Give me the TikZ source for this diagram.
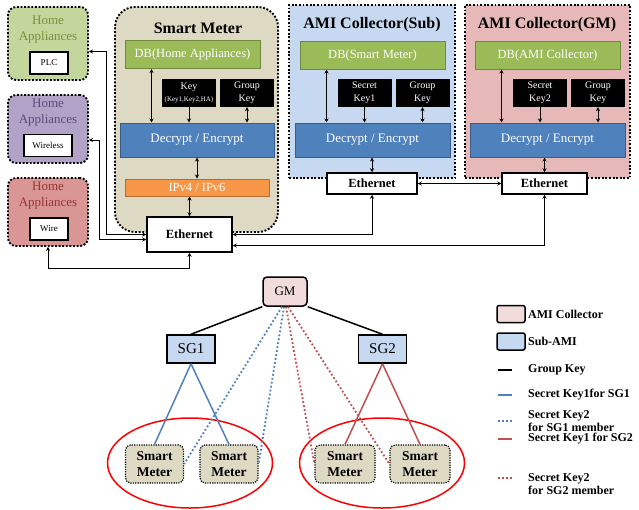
\documentclass[tikz,border=0pt]{standalone}
\usepackage{fontspec}
\setmainfont{Liberation Serif}
\usetikzlibrary{shapes.geometric, arrows.meta, positioning, calc}
\definecolor{hagreen}{RGB}{195,214,155}
\definecolor{hagreentext}{RGB}{119,147,60}
\definecolor{hapurple}{RGB}{179,162,199}
\definecolor{hapurpletext}{RGB}{96,74,123}
\definecolor{hared}{RGB}{217,150,148}
\definecolor{haredtext}{RGB}{149,55,53}
\definecolor{metercolor}{RGB}{221,217,195}
\definecolor{subcolor}{RGB}{198,217,241}
\definecolor{gmcolor}{RGB}{230,185,184}
\definecolor{gmlight}{RGB}{242,220,219}
\definecolor{dbcolor}{RGB}{155,187,89}
\definecolor{dbborder}{RGB}{113,137,63}
\definecolor{cryptcolor}{RGB}{79,129,189}
\definecolor{cryptborder}{RGB}{56,93,138}
\definecolor{ipcolor}{RGB}{247,150,70}
\definecolor{ipborder}{RGB}{182,109,49}
\definecolor{sgonecolor}{RGB}{79,129,189}
\definecolor{sgtwocolor}{RGB}{192,80,77}

\begin{document}
\begin{tikzpicture}[
    x=1pt, y=-1pt,
    dotborder/.style={draw, line width=1.9pt, dash pattern=on 1.9pt off 1.7pt},
    appliance/.style={dotborder, fill=#1, rounded corners=8pt, minimum width=80pt},
    hatitle/.style={text=#1, font=\fontsize{13}{16}\selectfont, align=center, inner sep=0pt},
    linkbox/.style={draw, line width=1.5pt, fill=white, font=\fontsize{9}{10}\selectfont, inner sep=0pt, minimum height=22pt},
    station/.style={dotborder, fill=#1, minimum width=166pt, minimum height=173pt},
    unittitle/.style={font=\bfseries\fontsize{16}{18}\selectfont, inner sep=0pt},
    dbbox/.style={draw=dbborder, line width=1pt, fill=dbcolor, text=white, font=\fontsize{12.5}{14}\selectfont, minimum height=28pt, inner sep=0pt},
    keybox/.style={fill=black, text=white, font=\fontsize{10}{12.5}\selectfont, align=center, minimum width=54pt, minimum height=28pt, inner sep=0pt},
    cryptbox/.style={draw=cryptborder, line width=1pt, fill=cryptcolor, text=white, font=\fontsize{13}{14}\selectfont, minimum width=155pt, minimum height=34pt, inner sep=0pt},
    ipbox/.style={draw=ipborder, line width=1pt, fill=ipcolor, text=white, font=\fontsize{12.5}{14}\selectfont, minimum width=144pt, minimum height=17pt, inner sep=0pt},
    ether/.style={draw, line width=1.5pt, fill=white, font=\bfseries\fontsize{12.5}{14}\selectfont, inner sep=0pt},
    link/.style={line width=1pt, {Stealth[length=4pt,width=4pt]}-{Stealth[length=4pt,width=4pt]}},
    feed/.style={line width=1pt, -{Stealth[length=4pt,width=4pt]}},
    gmnode/.style={draw, line width=1.5pt, fill=gmlight, rounded corners=4pt, font=\fontsize{13}{15}\selectfont, minimum width=44pt, minimum height=29pt, inner sep=0pt},
    sgnode/.style={draw, line width=1.5pt, fill=subcolor, font=\fontsize{15}{17}\selectfont, minimum width=48pt, minimum height=28pt, inner sep=0pt},
    memnode/.style={draw, line width=1.2pt, dash pattern=on 1.2pt off 1.2pt, fill=metercolor, rounded corners=5pt, font=\bfseries\fontsize{13.5}{16}\selectfont, align=center, minimum width=58pt, minimum height=38pt, inner sep=0pt},
    ring/.style={ellipse, draw=red, line width=1.5pt, minimum width=165pt, minimum height=90pt},
    gkline/.style={draw=black, line width=1.5pt},
    skonea/.style={draw=sgonecolor, line width=1.5pt},
    skoneb/.style={draw=sgtwocolor, line width=1.5pt},
    sktwoa/.style={draw=sgonecolor, line width=1.8pt, dash pattern=on 1.8pt off 2.2pt},
    sktwob/.style={draw=sgtwocolor, line width=1.8pt, dash pattern=on 1.8pt off 2.2pt},
    legbox/.style={draw, line width=1.5pt, rounded corners=2pt, minimum width=28pt, minimum height=17pt, inner sep=0pt},
    legtext/.style={anchor=west, align=left, font=\bfseries\fontsize{12}{12.5}\selectfont, inner sep=0pt}
]
    \useasboundingbox (0,0) rectangle (639,509);

    % Home appliances
    \node[appliance=hagreen, minimum height=73pt] (hapl) at (48,43.5) {};
    \node[appliance=hapurple, minimum height=68pt] (hawl) at (48,129) {};
    \node[appliance=hared, minimum height=68pt] (hawr) at (48,212) {};
    \node[hatitle=hagreentext] (hapltitle) at (48,30) {Home\\Appliances};
    \node[hatitle=hapurpletext] (hawltitle) at (48,113) {Home\\Appliances};
    \node[hatitle=haredtext] (hawrtitle) at (48,196) {Home\\Appliances};
    \node[linkbox, minimum width=38pt] (plc) at (49,63) {PLC};
    \node[linkbox, minimum width=48pt] (wireless) at (48,145.5) {Wireless};
    \node[linkbox, minimum width=38pt] (wire) at (49,229) {Wire};

    % Smart meter
    \node[station=metercolor, rounded corners=20pt, minimum width=163pt, minimum height=225pt] (meter) at (196.5,119.5) {};
    \node[unittitle] (metertitle) at (198,28) {Smart Meter};
    \node[dbbox, minimum width=135pt] (dbha) at (192.5,54.5) {DB(Home Appliances)};
    \node[keybox] (keyha) at (189,93) {Key\\{\fontsize{7}{8}\selectfont(Key1,Key2,HA)}};
    \node[keybox] (gkha) at (247,93) {Group\\Key};
    \node[cryptbox, minimum width=154pt] (decsm) at (197,140) {Decrypt / Encrypt};
    \node[ipbox] (ipsm) at (197,187.5) {IPv4 / IPv6};
    \node[ether, minimum width=85pt, minimum height=35pt] (ethsm) at (189.5,234.5) {Ethernet};

    % AMI collector (Sub)
    \node[station=subcolor] (sub) at (372,91.5) {};
    \node[unittitle] (subtitle) at (372,25) {AMI Collector(Sub)};
    \node[dbbox, minimum width=145pt] (dbsub) at (372.5,55) {DB(Smart Meter)};
    \node[keybox] (sksub) at (364.5,93) {Secret\\Key1};
    \node[keybox] (gksub) at (422.5,93) {Group\\Key};
    \node[cryptbox] (decsub) at (372.5,140) {Decrypt / Encrypt};
    \node[ether, minimum width=90pt, minimum height=21pt] (ethsub) at (372,183.5) {Ethernet};

    % AMI collector (GM)
    \node[station=gmcolor, minimum width=165pt] (gmunit) at (547.5,91.5) {};
    \node[unittitle] (gmtitle) at (547,25) {AMI Collector(GM)};
    \node[dbbox, minimum width=145pt] (dbgm) at (547.5,55) {DB(AMI Collector)};
    \node[keybox] (skgm) at (540,93) {Secret\\Key2};
    \node[keybox] (gkgm) at (598,93) {Group\\Key};
    \node[cryptbox] (decgm) at (547.5,140) {Decrypt / Encrypt};
    \node[ether, minimum width=85pt, minimum height=21pt] (ethgm) at (544.5,183.5) {Ethernet};

    % Links inside the units
    \draw[link] ([xshift=27pt]dbha.south west) -- ([xshift=32pt]decsm.north west);
    \draw[feed] (keyha.south) -- (keyha.south |- decsm.north);
    \draw[link] (gkha.south) -- (gkha.south |- decsm.north);
    \draw[link] (decsm.south) -- (ipsm.north);
    \draw[link] (ethsm.north) -- (ethsm.north |- ipsm.south);

    \draw[link] ([xshift=27pt]dbsub.south west) -- ([xshift=32pt]decsub.north west);
    \draw[feed] (sksub.south) -- (sksub.south |- decsub.north);
    \draw[link] (gksub.south) -- (gksub.south |- decsub.north);
    \draw[link] (ethsub.north) -- (ethsub.north |- decsub.south);

    \draw[link] ([xshift=27pt]dbgm.south west) -- ([xshift=32pt]decgm.north west);
    \draw[feed] (skgm.south) -- (skgm.south |- decgm.north);
    \draw[link] (gkgm.south) -- (gkgm.south |- decgm.north);
    \draw[link] (ethgm.north) -- (ethgm.north |- decgm.south);

    % Network links
    \draw[link] (ethsub.east) -- (ethgm.west);
    \draw[link] (ethsub.south) |- (ethsm.east);
    \draw[link] (ethgm.south) |- ([yshift=-11pt]ethsm.east);
    \draw[link] ([yshift=-8pt]hapl.east) -| ([xshift=-40pt]ethsm.west) -- (ethsm.west);
    \draw[link] ([yshift=-11pt]hawl.east) -| ([xshift=-47pt,yshift=-5pt]ethsm.west) -- ([yshift=-5pt]ethsm.west);
    \draw[link] (hawr.south) -- ++(0,22) -| (ethsm.south);

    % Key tree
    \node[ring] (ringa) at (190,463) {};
    \node[ring] (ringb) at (382,463) {};
    \node[gmnode] (gm) at (285,291.5) {GM};
    \node[sgnode] (sga) at (191,349) {SG1};
    \node[sgnode] (sgb) at (382.5,349) {SG2};
    \node[memnode] (sma) at (154.5,464) {Smart\\Meter};
    \node[memnode] (smb) at (229,464) {Smart\\Meter};
    \node[memnode, minimum width=60pt] (smc) at (345,464) {Smart\\Meter};
    \node[memnode, minimum width=60pt] (smd) at (420,464) {Smart\\Meter};

    \draw[gkline] (gm.south west) -- (sga.north);
    \draw[gkline] (gm.south east) -- (sgb.north);
    \draw[skonea] (sga.south) -- (sma.north);
    \draw[skonea] (sga.south) -- (smb.north);
    \draw[skoneb] (sgb.south) -- (smc.north);
    \draw[skoneb] (sgb.south) -- (smd.north);
    \draw[sktwoa] ([xshift=-3pt]gm.south) -- (sma.east);
    \draw[sktwoa] ([xshift=-1pt]gm.south) -- (smb.east);
    \draw[sktwob] ([xshift=1pt]gm.south) -- (smc.west);
    \draw[sktwob] ([xshift=3pt]gm.south) -- (smd.west);

    % Legend
    \node[legbox, fill=gmlight] (lgam) at (511,314) {};
    \node[legbox, fill=subcolor] (lgsub) at (511,341.5) {};
    \node[legtext] (lgamtext) at (528,314) {AMI Collector};
    \node[legtext] (lgsubtext) at (528,341.5) {Sub-AMI};
    \node[legtext] (lggk) at (528,370) {Group Key};
    \node[legtext] (lgska) at (528,395) {Secret Key1for SG1};
    \node[legtext] (lgskb) at (528,421) {Secret Key2\\for SG1 member};
    \node[legtext] (lgskc) at (528,439) {Secret Key1 for SG2};
    \node[legtext] (lgskd) at (528,484) {Secret Key2\\for SG2 member};
    \draw[gkline] ([xshift=-30pt]lggk.west) -- ([xshift=-16pt]lggk.west);
    \draw[skonea] ([xshift=-30pt]lgska.west) -- ([xshift=-16pt]lgska.west);
    \draw[sktwoa] ([xshift=-30pt]lgskb.west) -- ([xshift=-16pt]lgskb.west);
    \draw[skoneb] ([xshift=-30pt]lgskc.west) -- ([xshift=-16pt]lgskc.west);
    \draw[sktwob] ([xshift=-30pt,yshift=6pt]lgskd.west) -- ([xshift=-16pt,yshift=6pt]lgskd.west);
\end{tikzpicture}
\end{document}
